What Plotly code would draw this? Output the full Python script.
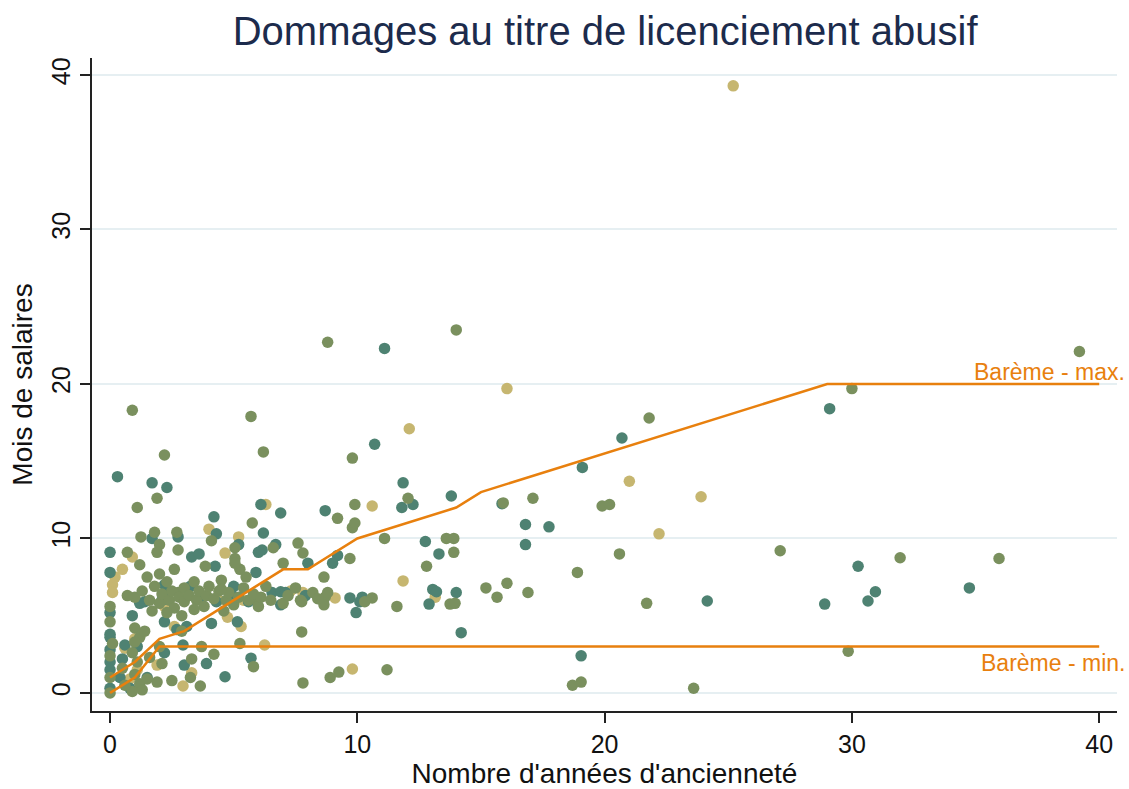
import plotly.graph_objects as go

# ---------------- data ----------------
teal_x = [0.3, 1.7, 2.3, 4.2, 11.1, 29.1, 20.7, 10.7, 19.1, 1.7, 2.75, 4.3, 5.2, 0.0, 3.3, 3.6, 6.0,
          6.1, 6.9, 6.2, 6.7, 6.15, 9.2, 9.0, 8.0, 11.85, 11.8, 12.25, 8.7, 13.8, 12.75, 13.3, 15.85,
          16.8, 17.75, 16.8, 9.7, 10.2, 10.1, 9.95, 13.05, 12.9, 13.2, 14.0, 14.2, 19.05, 24.15, 28.9,
          30.25, 30.65, 30.95, 34.75, 4.25, 3.25, 4.3, 5.0, 5.9, 4.1, 5.15, 3.1, 2.7, 2.95, 3.9, 3.0,
          5.7, 4.65, 6.55, 6.9, 7.1, 6.9, 0.0, 0.0, 0.9, 1.2, 2.1, 2.2, 2.2, 2.2, 0.0, 0.0, 0.0, 0.5,
          0.4, 0.8, 0.0, 1.1, 1.5, 0.0, 0.0, 1.4, 2.3, 3.7, 4.9, 5.6, 7.9, 0.6]
teal_y = [14.0, 13.6, 13.3, 11.4, 22.3, 18.4, 16.5, 16.1, 14.6, 10.0, 10.1, 10.3, 9.6, 9.1, 8.8, 9.0, 9.1,
          12.2, 11.65, 10.35, 9.6, 9.25, 8.9, 8.4, 8.4, 13.6, 12.0, 12.2, 11.8, 12.75, 9.8, 9.0, 12.25,
          10.9, 10.75, 9.6, 6.15, 6.2, 5.9, 5.2, 6.7, 5.75, 6.55, 6.5, 3.9, 2.4, 5.95, 5.75,
          8.2, 5.95, 6.55, 6.8, 8.2, 6.9, 5.9, 6.9, 7.8, 4.5, 4.6, 4.3, 4.1, 3.1, 1.9, 1.8,
          2.25, 1.05, 6.5, 6.55, 6.5, 5.7, 7.8, 5.2, 5.0, 5.8, 6.0, 7.0, 4.6, 2.6, 3.8, 2.0, 1.5, 2.2,
          1.0, 0.3, 0.3, 3.0, 1.0, 3.6, 2.8, 5.9, 6.3, 6.1, 6.4, 5.9, 6.3, 3.1]

olive_x = [8.8, 14.0, 39.2, 30.0, 0.9, 5.7, 21.8, 9.8, 6.2, 2.2, 1.9, 1.1, 5.75, 1.25, 1.8, 2.0, 2.7,
           4.1, 5.05, 0.7, 1.9, 2.75, 5.05, 12.05, 9.9, 9.2, 9.8, 9.9, 11.1, 7.6, 7.8, 9.7, 7.0, 15.9,
           17.1, 18.9, 20.6, 19.9, 20.2, 21.7, 8.2, 8.7, 8.8, 8.65, 7.7, 8.65, 10.6, 11.6, 12.8, 13.6,
           13.9, 13.9, 13.75, 13.95, 15.2, 15.65, 16.05, 16.9, 18.7, 19.05, 23.6, 7.75, 7.8, 8.9, 9.25,
           11.2, 27.1, 31.95, 35.95, 29.85, 3.85, 2.75, 5.25, 5.05, 3.7, 5.25, 4.2, 5.8, 3.25, 3.65,
           5.95, 7.0, 7.75, 1.0, 1.3, 1.6, 1.8, 2.0, 2.1, 2.3, 2.4, 2.5, 2.6, 2.8, 3.0, 3.0, 3.2, 3.4,
           3.5, 3.6, 3.8, 3.9, 4.0, 4.2, 4.4, 4.5, 4.7, 4.8, 5.0, 5.2, 5.4, 5.5, 5.6, 5.8, 6.0, 6.1,
           6.3, 6.5, 7.2, 7.5, 1.5, 2.0, 2.6, 1.2, 0.7, 2.3, 2.9, 1.7, 3.4, 4.6, 1.0, 1.2, 0.9, 1.1,
           1.0, 1.2, 0.9, 1.3, 0.0, 0.1, 0.0, 0.0, 0.6, 0.5, 1.6, 1.9, 2.1, 2.0, 0.0, 0.0, 1.4, 1.0,
           2.9, 4.5, 6.6, 8.4, 10.3, 1.5, 2.5, 3.3]
olive_y = [22.7, 23.5, 22.1, 19.7, 18.3, 17.9, 17.8, 15.2, 15.6, 15.4, 12.6, 12.0, 11.0, 10.1, 10.4, 9.6, 10.4,
           9.85, 9.4, 9.1, 9.1, 9.25, 8.7, 12.6, 12.2, 11.3, 10.7, 11.0, 10.0, 9.7, 9.06, 8.7, 8.4, 12.3,
           12.6, 7.8, 9.0, 12.1, 12.2, 5.8, 6.5, 6.2, 6.5, 7.5, 6.0, 5.7, 6.15, 5.6, 8.2, 10.0,
           10.0, 9.1, 5.75, 5.8, 6.8, 6.2, 7.1, 6.5, 0.5, 0.7, 0.3, 3.95, 0.65, 1.0, 1.35,
           1.5, 9.2, 8.75, 8.7, 2.7, 8.2, 6.5, 8.0, 8.4, 3.0, 3.2, 2.5, 1.7, 1.0, 0.45,
           6.0, 5.8, 5.9, 6.2, 6.6, 6.0, 6.9, 5.8, 6.4, 7.2, 6.0, 6.6, 5.5, 6.2, 6.8, 5.9, 6.3, 7.2,
           6.0, 6.6, 5.6, 6.3, 6.9, 6.1, 6.6, 7.3, 6.0, 6.5, 5.7, 6.2, 6.8, 7.5, 6.0, 6.4, 5.6, 6.2,
           6.9, 6.0, 6.3, 6.8, 7.5, 7.7, 8.0, 8.3, 6.3, 5.2, 5.0, 5.3, 5.4, 5.3, 4.2, 3.6, 2.6, 2.0,
           1.2, 0.6, 0.1, 0.2, 2.4, 3.2, 1.0, 0.0, 0.5, 1.6, 2.3, 0.7, 1.9, 3.0, 5.6, 4.6, 4.0, 3.3,
           4.0, 6.7, 9.4, 6.1, 5.9, 0.9, 0.8, 2.2]

khaki_x = [25.2, 16.05, 12.1, 21.0, 22.2, 23.9, 10.6, 6.3, 4.0, 5.2, 0.9, 4.65, 11.85, 13.15, 9.1, 7.8,
           9.8, 4.75, 5.3, 3.3, 2.95, 6.25, 0.1, 0.1, 0.2, 0.5, 7.3, 5.4, 2.6, 1.0, 0.6, 1.9, 1.1,
           3.0, 4.4, 2.2, 0.8]
khaki_y = [39.3, 19.7, 17.1, 13.7, 10.3, 12.7, 12.1, 12.2, 10.6, 10.1, 8.8, 9.05, 7.25, 6.2, 6.15, 6.5,
           1.55, 4.9, 4.3, 1.3, 0.45, 3.1, 7.0, 6.5, 7.5, 8.0, 6.6, 6.0, 4.3, 3.5, 2.9, 1.8, 1.5,
           6.6, 6.0, 5.6, 0.9]

bareme_years = [0, 1, 2, 3, 4, 5, 6, 7, 8, 9, 10, 11, 12, 13, 14, 15, 16, 17, 18, 19, 20,
                21, 22, 23, 24, 25, 26, 27, 28, 29, 30, 40]
bareme_max = [1, 2, 3.5, 4, 5, 6, 7, 8, 8, 9, 10, 10.5, 11, 11.5, 12, 13, 13.5, 14, 14.5, 15, 15.5,
              16, 16.5, 17, 17.5, 18, 18.5, 19, 19.5, 20, 20, 20]
bareme_min = [0, 1, 3, 3, 3, 3, 3, 3, 3, 3, 3, 3, 3, 3, 3, 3, 3, 3, 3, 3, 3,
              3, 3, 3, 3, 3, 3, 3, 3, 3, 3, 3]

TEAL = "#4e8272"
OLIVE = "#7a905e"
KHAKI = "#c6b670"
ORANGE = "#e8800e"
FONT = "Liberation Sans, Arial, sans-serif"

fig = go.Figure()
for xs, ys, col in [(khaki_x, khaki_y, KHAKI), (teal_x, teal_y, TEAL), (olive_x, olive_y, OLIVE)]:
    fig.add_trace(go.Scatter(x=xs, y=ys, mode="markers",
                             marker=dict(size=11.5, color=col, line=dict(width=0)),
                             showlegend=False, hoverinfo="x+y"))

fig.add_trace(go.Scatter(x=bareme_years, y=bareme_max, mode="lines",
                         line=dict(color=ORANGE, width=2.5), showlegend=False))
fig.add_trace(go.Scatter(x=bareme_years, y=bareme_min, mode="lines",
                         line=dict(color=ORANGE, width=2.5), showlegend=False))

fig.add_annotation(x=1.0098, xref="paper", y=20.75, yref="y", text="Barème - max.",
                   showarrow=False, xanchor="right", yanchor="middle",
                   font=dict(family=FONT, size=23, color=ORANGE))
fig.add_annotation(x=1.0098, xref="paper", y=1.95, yref="y", text="Barème - min.",
                   showarrow=False, xanchor="right", yanchor="middle",
                   font=dict(family=FONT, size=23, color=ORANGE))

fig.update_layout(
    width=1129, height=789,
    margin=dict(l=92, r=12, t=58, b=78),
    paper_bgcolor="white", plot_bgcolor="white",
    font=dict(family=FONT, color="#111111"),
    title=dict(text="Dommages au titre de licenciement abusif", x=0.536, xanchor="center",
               y=0.961, yanchor="middle",
               font=dict(family=FONT, size=40, color="#1c2b4c")),
    xaxis=dict(range=[-0.73, 40.72], tickvals=[0, 10, 20, 30, 40], showgrid=False, zeroline=False,
               automargin=False,
               showline=True, linecolor="#222222", linewidth=1.5, ticks="outside", ticklen=10,
               tickwidth=1.5, tickcolor="#222222", tickfont=dict(family=FONT, size=25, color="#111111"),
               title=dict(text="Nombre d'années d'ancienneté", font=dict(family=FONT, size=28, color="#111111"),
                          standoff=4)),
    yaxis=dict(range=[-1.17, 41.1], tickvals=[0, 10, 20, 30, 40], showgrid=True, gridcolor="#e6eff2",
               automargin=False,
               gridwidth=2, zeroline=False, showline=True, linecolor="#222222", linewidth=1.5,
               ticks="outside", ticklen=10, tickwidth=1.5, tickcolor="#222222", tickangle=-90,
               tickfont=dict(family=FONT, size=25, color="#111111"),
               title=dict(text="Mois de salaires", font=dict(family=FONT, size=28, color="#111111"),
                          standoff=6)),
)

fig.write_html("out.html", config={"displayModeBar": False},
               post_script="document.body.style.margin='0';")
